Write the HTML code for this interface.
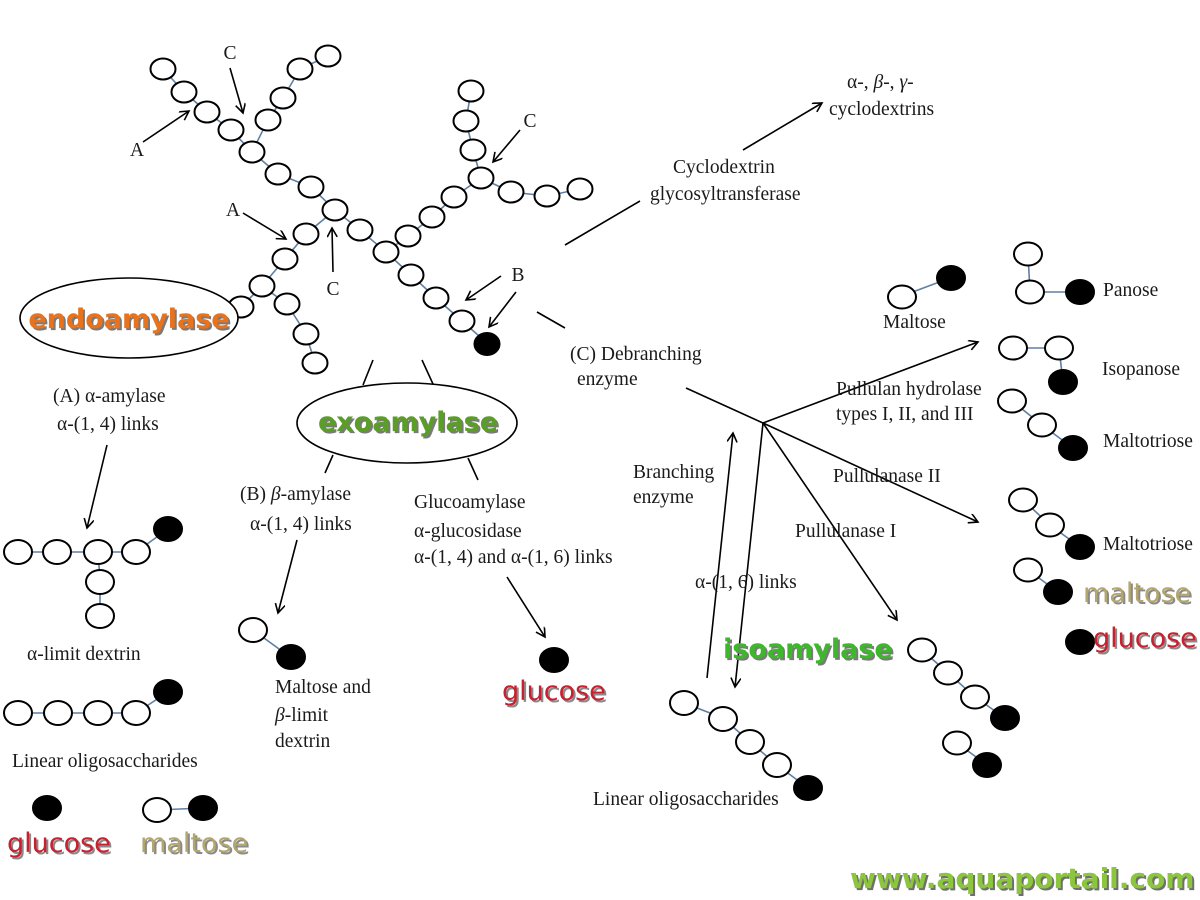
<!DOCTYPE html>
<html>
<head>
<meta charset="utf-8">
<style>
html,body{margin:0;padding:0;background:#fff;}
svg{display:block;}
.w{fill:#fff;stroke:#000;stroke-width:2;}
.b{fill:#000;stroke:#000;stroke-width:1;}
.c{fill:none;stroke:#5f7fa3;stroke-width:1.6;}
.l{fill:none;stroke:#000;stroke-width:1.6;}
.s{font-family:"Liberation Serif",serif;font-size:19.5px;fill:#1a1a1a;}
.big{font-family:"DejaVu Sans",sans-serif;font-size:27px;}
</style>
</head>
<body>
<svg width="1200" height="900" viewBox="0 0 1200 900" xmlns="http://www.w3.org/2000/svg">
<defs>
<marker id="ah" markerWidth="12" markerHeight="12" refX="10" refY="5" orient="auto" markerUnits="userSpaceOnUse">
<path d="M1,0 L10,5 L1,10" fill="none" stroke="#000" stroke-width="1.6"/>
</marker>
</defs>

<!-- ============ TOP TREE ============ -->
<g>
<polyline class="c" points="163,69 184,92 207,112 231,130 252,152 278,174 311,187 335,210 360,230 386,252 411,275 436,298 462,321 487,343"/>
<polyline class="c" points="328,56 300,69 283,98 268,120 252,152"/>
<polyline class="c" points="335,210 306,234 285,259 262,286 241,307"/>
<polyline class="c" points="262,286 287,304 306,334 315,363"/>
<polyline class="c" points="386,252 408,236 432,217 454,197 481,178 473,150 466,121 471,91"/>
<polyline class="c" points="481,178 511,192 547,196 580,189"/>
</g>
<g>
<ellipse class="w" cx="163" cy="69" rx="12.5" ry="10.5"/>
<ellipse class="w" cx="184" cy="92" rx="12.5" ry="10.5"/>
<ellipse class="w" cx="207" cy="112" rx="12.5" ry="10.5"/>
<ellipse class="w" cx="231" cy="130" rx="12.5" ry="10.5"/>
<ellipse class="w" cx="252" cy="152" rx="12.5" ry="10.5"/>
<ellipse class="w" cx="278" cy="174" rx="12.5" ry="10.5"/>
<ellipse class="w" cx="311" cy="187" rx="12.5" ry="10.5"/>
<ellipse class="w" cx="335" cy="210" rx="12.5" ry="10.5"/>
<ellipse class="w" cx="360" cy="230" rx="12.5" ry="10.5"/>
<ellipse class="w" cx="386" cy="252" rx="12.5" ry="10.5"/>
<ellipse class="w" cx="411" cy="275" rx="12.5" ry="10.5"/>
<ellipse class="w" cx="436" cy="298" rx="12.5" ry="10.5"/>
<ellipse class="w" cx="462" cy="321" rx="12.5" ry="10.5"/>
<ellipse class="b" cx="487" cy="344" rx="13" ry="11.5"/>

<ellipse class="w" cx="328" cy="56" rx="12.5" ry="10.5"/>
<ellipse class="w" cx="300" cy="69" rx="12.5" ry="10.5"/>
<ellipse class="w" cx="283" cy="98" rx="12.5" ry="10.5"/>
<ellipse class="w" cx="268" cy="120" rx="12.5" ry="10.5"/>

<ellipse class="w" cx="306" cy="234" rx="12.5" ry="10.5"/>
<ellipse class="w" cx="285" cy="259" rx="12.5" ry="10.5"/>
<ellipse class="w" cx="262" cy="286" rx="12.5" ry="10.5"/>
<ellipse class="w" cx="241" cy="307" rx="12.5" ry="10.5"/>
<ellipse class="w" cx="287" cy="304" rx="12.5" ry="10.5"/>
<ellipse class="w" cx="306" cy="334" rx="12.5" ry="10.5"/>
<ellipse class="w" cx="315" cy="363" rx="12.5" ry="10.5"/>

<ellipse class="w" cx="408" cy="236" rx="12.5" ry="10.5"/>
<ellipse class="w" cx="432" cy="217" rx="12.5" ry="10.5"/>
<ellipse class="w" cx="454" cy="197" rx="12.5" ry="10.5"/>
<ellipse class="w" cx="481" cy="178" rx="12.5" ry="10.5"/>
<ellipse class="w" cx="473" cy="150" rx="12.5" ry="10.5"/>
<ellipse class="w" cx="466" cy="121" rx="12.5" ry="10.5"/>
<ellipse class="w" cx="471" cy="91" rx="12.5" ry="10.5"/>
<ellipse class="w" cx="511" cy="192" rx="12.5" ry="10.5"/>
<ellipse class="w" cx="547" cy="196" rx="12.5" ry="10.5"/>
<ellipse class="w" cx="580" cy="189" rx="12.5" ry="10.5"/>
</g>

<!-- tree arrows and labels -->
<line class="l" x1="143" y1="142" x2="189" y2="111" marker-end="url(#ah)"/>
<line class="l" x1="230" y1="68" x2="243" y2="113" marker-end="url(#ah)"/>
<line class="l" x1="243" y1="213" x2="286" y2="239" marker-end="url(#ah)"/>
<line class="l" x1="333" y1="272" x2="332" y2="228" marker-end="url(#ah)"/>
<line class="l" x1="520" y1="130" x2="493" y2="162" marker-end="url(#ah)"/>
<line class="l" x1="501" y1="276" x2="466" y2="300" marker-end="url(#ah)"/>
<line class="l" x1="516" y1="292" x2="489" y2="327" marker-end="url(#ah)"/>
<text class="s" x="230" y="59" text-anchor="middle">C</text>
<text class="s" x="137" y="156" text-anchor="middle">A</text>
<text class="s" x="233" y="216" text-anchor="middle">A</text>
<text class="s" x="333" y="295" text-anchor="middle">C</text>
<text class="s" x="530" y="127" text-anchor="middle">C</text>
<text class="s" x="518" y="281" text-anchor="middle">B</text>

<!-- plain lines -->
<line class="l" x1="565" y1="245" x2="640" y2="201"/>
<line class="l" x1="537" y1="312" x2="565" y2="328"/>
<line class="l" x1="373" y1="360" x2="363" y2="385"/>
<line class="l" x1="422" y1="360" x2="433" y2="384"/>
<line class="l" x1="333" y1="455" x2="325" y2="473"/>
<line class="l" x1="468" y1="458" x2="478" y2="480"/>

<!-- ellipses -->
<ellipse cx="129" cy="318" rx="109" ry="40" fill="#fff" stroke="#000" stroke-width="1.6"/>
<text class="big" x="131" y="330" text-anchor="middle" font-weight="bold" fill="#7a7a7a">endoamylase</text>
<text class="big" x="129" y="328" text-anchor="middle" font-weight="bold" fill="#e8731c">endoamylase</text>

<ellipse cx="407" cy="423" rx="110" ry="40" fill="#fff" stroke="#000" stroke-width="1.6"/>
<text class="big" x="410" y="433" text-anchor="middle" font-weight="bold" fill="#7a7a7a">exoamylase</text>
<text class="big" x="408" y="431" text-anchor="middle" font-weight="bold" fill="#5a9e28">exoamylase</text>

<!-- cyclodextrin -->
<text class="s" x="673" y="173">Cyclodextrin</text>
<text class="s" x="650" y="200">glycosyltransferase</text>
<line class="l" x1="743" y1="150" x2="822" y2="103" marker-end="url(#ah)"/>
<text class="s" x="847" y="88">α-, <tspan font-style="italic">β</tspan>-, <tspan font-style="italic">γ</tspan>-</text>
<text class="s" x="829" y="115">cyclodextrins</text>

<!-- (A) alpha-amylase -->
<text class="s" x="53" y="402">(A) α-amylase</text>
<text class="s" x="57" y="430">α-(1, 4) links</text>
<line class="l" x1="107" y1="445" x2="87" y2="528" marker-end="url(#ah)"/>

<polyline class="c" points="18,552 57,552 98,552 136,552 168,529"/>
<polyline class="c" points="98,552 100,580 100,615"/>
<ellipse class="w" cx="18" cy="552" rx="14" ry="12"/>
<ellipse class="w" cx="57" cy="552" rx="14" ry="12"/>
<ellipse class="w" cx="98" cy="552" rx="14" ry="12"/>
<ellipse class="w" cx="136" cy="552" rx="14" ry="12"/>
<ellipse class="b" cx="168" cy="529" rx="14.5" ry="12.5"/>
<ellipse class="w" cx="100" cy="582" rx="14" ry="12"/>
<ellipse class="w" cx="100" cy="616" rx="14" ry="12"/>
<text class="s" x="27" y="660">α-limit dextrin</text>

<polyline class="c" points="18,713 58,713 98,713 136,713 168,692"/>
<ellipse class="w" cx="18" cy="713" rx="14" ry="12"/>
<ellipse class="w" cx="58" cy="713" rx="14" ry="12"/>
<ellipse class="w" cx="98" cy="713" rx="14" ry="12"/>
<ellipse class="w" cx="136" cy="713" rx="14" ry="12"/>
<ellipse class="b" cx="168" cy="692" rx="14.5" ry="12.5"/>
<text class="s" x="12" y="767">Linear oligosaccharides</text>

<ellipse class="b" cx="47" cy="808" rx="14.5" ry="12.5"/>
<line class="c" x1="157" y1="810" x2="203" y2="808"/>
<ellipse class="w" cx="157" cy="810" rx="14" ry="12"/>
<ellipse class="b" cx="203" cy="808" rx="14.5" ry="12.5"/>
<text class="big" x="9" y="854" fill="#8a8a8a">glucose</text>
<text class="big" x="7" y="852" fill="#c8202e">glucose</text>
<text class="big" x="142" y="854" fill="#8a8a8a">maltose</text>
<text class="big" x="140" y="852" fill="#b3a66e">maltose</text>

<!-- (B) beta-amylase -->
<text class="s" x="240" y="500">(B) <tspan font-style="italic">β</tspan>-amylase</text>
<text class="s" x="250" y="530">α-(1, 4) links</text>
<line class="l" x1="297" y1="540" x2="278" y2="613" marker-end="url(#ah)"/>
<line class="c" x1="253" y1="630" x2="290" y2="657"/>
<ellipse class="w" cx="253" cy="630" rx="14" ry="12"/>
<ellipse class="b" cx="291" cy="657" rx="14.5" ry="12.5"/>
<text class="s" x="275" y="693">Maltose and</text>
<text class="s" x="275" y="721"><tspan font-style="italic">β</tspan>-limit</text>
<text class="s" x="275" y="747">dextrin</text>

<!-- Glucoamylase -->
<text class="s" x="414" y="508">Glucoamylase</text>
<text class="s" x="414" y="537">α-glucosidase</text>
<text class="s" x="414" y="563">α-(1, 4) and α-(1, 6) links</text>
<line class="l" x1="507" y1="577" x2="545" y2="637" marker-end="url(#ah)"/>
<ellipse class="b" cx="554" cy="660" rx="14.5" ry="12.5"/>
<text class="big" x="504" y="702" fill="#8a8a8a">glucose</text>
<text class="big" x="502" y="700" fill="#c8202e">glucose</text>

<!-- (C) Debranching -->
<text class="s" x="570" y="360">(C) Debranching</text>
<text class="s" x="577" y="385">enzyme</text>
<line class="l" x1="686" y1="388" x2="763" y2="423"/>
<line class="l" x1="763" y1="423" x2="978" y2="342" marker-end="url(#ah)"/>
<line class="l" x1="763" y1="423" x2="978" y2="522" marker-end="url(#ah)"/>
<line class="l" x1="763" y1="423" x2="897" y2="620" marker-end="url(#ah)"/>
<line class="l" x1="763" y1="423" x2="735" y2="687" marker-end="url(#ah)"/>
<line class="l" x1="707" y1="678" x2="733" y2="433" marker-end="url(#ah)"/>

<text class="s" x="836" y="395">Pullulan hydrolase</text>
<text class="s" x="836" y="420">types I, II, and III</text>
<text class="s" x="833" y="482">Pullulanase II</text>
<text class="s" x="795" y="537">Pullulanase I</text>
<text class="s" x="633" y="478">Branching</text>
<text class="s" x="633" y="503">enzyme</text>
<text class="s" x="695" y="588">α-(1, 6) links</text>

<text class="big" x="725" y="660" font-weight="bold" fill="#7a7a7a">isoamylase</text>
<text class="big" x="723" y="658" font-weight="bold" fill="#3cb82a">isoamylase</text>

<!-- bottom linear oligos right -->
<polyline class="c" points="684,703 723,718 750,742 777,765 808,788"/>
<ellipse class="w" cx="684" cy="703" rx="14" ry="12"/>
<ellipse class="w" cx="723" cy="719" rx="14" ry="12"/>
<ellipse class="w" cx="750" cy="742" rx="14" ry="12"/>
<ellipse class="w" cx="777" cy="765" rx="14" ry="12"/>
<ellipse class="b" cx="808" cy="788" rx="14.5" ry="12.5"/>
<text class="s" x="593" y="805">Linear oligosaccharides</text>

<!-- right side products -->
<line class="c" x1="902" y1="296" x2="950" y2="278"/>
<ellipse class="w" cx="902" cy="297" rx="14" ry="11.5"/>
<ellipse class="b" cx="951" cy="278" rx="14.5" ry="12.5"/>
<text class="s" x="883" y="328">Maltose</text>

<polyline class="c" points="1028,254 1030,292 1080,292"/>
<ellipse class="w" cx="1028" cy="254" rx="14" ry="11.5"/>
<ellipse class="w" cx="1030" cy="292" rx="14" ry="11.5"/>
<ellipse class="b" cx="1080" cy="292" rx="14.5" ry="12.5"/>
<text class="s" x="1103" y="296">Panose</text>

<polyline class="c" points="1013,348 1059,348 1063,382"/>
<ellipse class="w" cx="1013" cy="348" rx="14" ry="11.5"/>
<ellipse class="w" cx="1059" cy="348" rx="14" ry="11.5"/>
<ellipse class="b" cx="1063" cy="382" rx="14.5" ry="12.5"/>
<text class="s" x="1102" y="375">Isopanose</text>

<polyline class="c" points="1012,401 1042,425 1073,448"/>
<ellipse class="w" cx="1012" cy="401" rx="14" ry="11.5"/>
<ellipse class="w" cx="1042" cy="425" rx="14" ry="11.5"/>
<ellipse class="b" cx="1073" cy="448" rx="14.5" ry="12.5"/>
<text class="s" x="1103" y="447">Maltotriose</text>

<polyline class="c" points="1023,500 1050,525 1080,547"/>
<ellipse class="w" cx="1023" cy="500" rx="14" ry="11.5"/>
<ellipse class="w" cx="1050" cy="525" rx="14" ry="11.5"/>
<ellipse class="b" cx="1080" cy="547" rx="14.5" ry="12.5"/>
<text class="s" x="1103" y="550">Maltotriose</text>

<line class="c" x1="1028" y1="570" x2="1058" y2="592"/>
<ellipse class="w" cx="1028" cy="570" rx="14" ry="11.5"/>
<ellipse class="b" cx="1058" cy="592" rx="14.5" ry="12.5"/>
<text class="big" x="1085" y="604" fill="#8a8a8a">maltose</text>
<text class="big" x="1083" y="602" fill="#b3a66e">maltose</text>

<ellipse class="b" cx="1080" cy="642" rx="14.5" ry="12.5"/>
<text class="big" x="1095" y="649" fill="#8a8a8a">glucose</text>
<text class="big" x="1093" y="647" fill="#c8202e">glucose</text>

<polyline class="c" points="922,650 948,673 975,697 1005,718"/>
<ellipse class="w" cx="922" cy="650" rx="14" ry="11.5"/>
<ellipse class="w" cx="948" cy="673" rx="14" ry="11.5"/>
<ellipse class="w" cx="975" cy="697" rx="14" ry="11.5"/>
<ellipse class="b" cx="1005" cy="718" rx="14.5" ry="12.5"/>

<line class="c" x1="957" y1="743" x2="987" y2="765"/>
<ellipse class="w" cx="957" cy="743" rx="14" ry="11.5"/>
<ellipse class="b" cx="987" cy="765" rx="14.5" ry="12.5"/>

<!-- watermark -->
<text class="big" x="852" y="890" font-weight="bold" style="font-size:28px" fill="#6f6f6f">www.aquaportail.com</text>
<text class="big" x="850" y="888" font-weight="bold" style="font-size:28px" fill="#8cc63e">www.aquaportail.com</text>
</svg>
</body>
</html>
